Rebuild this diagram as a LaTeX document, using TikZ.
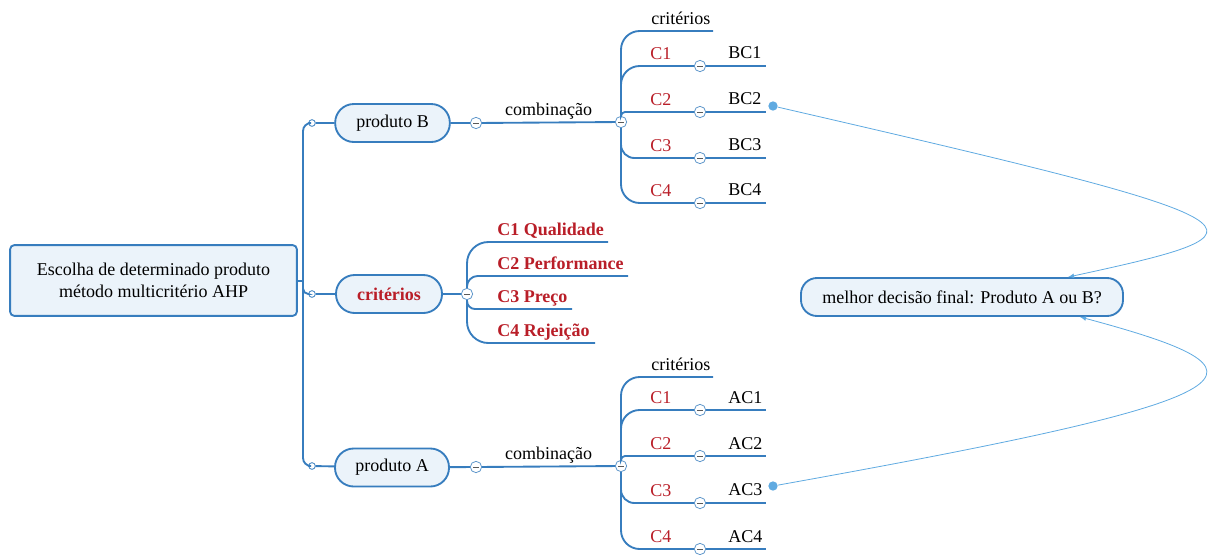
\documentclass[tikz,border=0pt]{standalone}
\usepackage{fontspec}
\setmainfont{Liberation Serif}
\usetikzlibrary{arrows}

\definecolor{mmblue}{RGB}{55,125,190}
\definecolor{mmfill}{RGB}{235,243,250}
\definecolor{mmred}{RGB}{185,30,40}
\definecolor{mmlink}{RGB}{95,170,225}

\begin{document}
\begin{tikzpicture}[x=0.75pt, y=-0.75pt,
    every node/.style={font=\fontsize{13.5}{16.5}\selectfont},
    topic/.style={draw=mmblue, fill=mmfill, line width=1.4pt, rounded corners=3pt,
      minimum width=215pt, minimum height=53pt, align=center},
    sub/.style={draw=mmblue, fill=mmfill, line width=1.4pt, rounded corners=14pt,
      minimum height=28.5pt},
    knob/.style={circle, draw=mmblue, fill=white, line width=0.6pt, inner sep=0pt,
      minimum size=5pt},
    minus/.style={circle, draw=mmblue!80, fill=white, line width=0.6pt, inner sep=0pt,
      minimum size=8.5pt, path picture={\draw[gray!70!black, line width=0.6pt]
        ([xshift=2pt]path picture bounding box.west) --
        ([xshift=-2pt]path picture bounding box.east);}},
    branch/.style={draw=mmblue, line width=1.4pt},
    leaf/.style={inner sep=0pt, anchor=base west},
    crit/.style={leaf, text=mmred},
    boldcrit/.style={crit, font=\fontsize{13.5}{16.5}\selectfont\bfseries},
    tip/.style={circle, fill=mmlink, inner sep=0pt, minimum size=7pt},
    link/.style={draw=mmlink, line width=0.6pt, -latex}]
  \useasboundingbox (0,0) rectangle (1214,554);

  % main topics
  \node[topic] (root) at (153.5,280.5) {Escolha de determinado produto\\método multicritério AHP};
  \node[sub, minimum width=86pt] (prodB) at (392.5,123) {produto B};
  \node[sub, minimum width=79.5pt, text=mmred,
    font=\fontsize{13.5}{16.5}\selectfont\bfseries] (crit) at (389,294) {critérios};
  \node[sub, minimum width=85.5pt] (prodA) at (392,467.5) {produto A};
  \node[sub, minimum width=241.5pt, rounded corners=12pt] (dec) at (962,297)
    {melhor decisão final: Produto A ou B?};

  % trunk
  \coordinate (trunk) at (303,281);
  \node[knob] (oB) at (312,123) {};
  \node[knob] (oC) at (312,294) {};
  \node[knob] (oA) at (312,466) {};
  \draw[branch] (root) -- (trunk);
  \draw[branch, rounded corners=6pt] (trunk) |- (oB);
  \draw[branch, rounded corners=4pt] (trunk) |- (oC);
  \draw[branch, rounded corners=6pt] (trunk) |- (oA);
  \draw[branch] (oB) -- (prodB);
  \draw[branch] (oC) -- (crit);
  \draw[branch] (oA) -- (prodA);

  % produto B
  \node[minus] (mB) at (476,123) {};
  \node[minus] (jB) at (621,122) {};
  \draw[branch] (prodB) -- (mB);
  \draw[branch] (mB) -- node[above, inner sep=2pt]{combinação} (jB);
  \node[leaf] (kB) at (651,24) {critérios};
  \coordinate (kBe) at (713,31);
  \draw[branch, rounded corners=14pt] (jB) |- (kBe);
  \node[crit] (cB1) at (650,59) {C1};
  \node[crit] (cB2) at (650,105) {C2};
  \node[crit] (cB3) at (650,151) {C3};
  \node[crit] (cB4) at (650,196) {C4};
  \node[minus] (mB1) at (700,66) {};
  \node[minus] (mB2) at (700,112) {};
  \node[minus] (mB3) at (700,158) {};
  \node[minus] (mB4) at (700,203) {};
  \draw[branch, rounded corners=14pt] (jB) |- (mB1);
  \draw[branch, rounded corners=3pt] (jB) |- (mB2);
  \draw[branch, rounded corners=10pt] (jB) |- (mB3);
  \draw[branch, rounded corners=14pt] (jB) |- (mB4);
  \node[leaf] (bB1) at (728,58) {BC1};
  \node[leaf] (bB2) at (728,104) {BC2};
  \node[leaf] (bB3) at (728,150) {BC3};
  \node[leaf] (bB4) at (728,195) {BC4};
  \coordinate (eB1) at (766,66);
  \coordinate (eB2) at (766,112);
  \coordinate (eB3) at (766,158);
  \coordinate (eB4) at (766,203);
  \draw[branch] (mB1) -- (eB1);
  \draw[branch] (mB2) -- (eB2);
  \draw[branch] (mB3) -- (eB3);
  \draw[branch] (mB4) -- (eB4);

  % criterios
  \node[minus] (mC) at (467,294) {};
  \draw[branch] (crit) -- (mC);
  \node[boldcrit] (q1) at (497,235) {C1 Qualidade};
  \node[boldcrit] (q2) at (497,269) {C2 Performance};
  \node[boldcrit] (q3) at (497,302) {C3 Preço};
  \node[boldcrit] (q4) at (497,336) {C4 Rejeição};
  \coordinate (eQ1) at (608,242);
  \coordinate (eQ2) at (628,276);
  \coordinate (eQ3) at (572,309);
  \coordinate (eQ4) at (595,343);
  \draw[branch, rounded corners=16pt] (mC) |- (eQ1);
  \draw[branch, rounded corners=8pt] (mC) |- (eQ2);
  \draw[branch, rounded corners=6pt] (mC) |- (eQ3);
  \draw[branch, rounded corners=16pt] (mC) |- (eQ4);

  % produto A
  \node[minus] (mA) at (476,467) {};
  \node[minus] (jA) at (621,466) {};
  \draw[branch] (prodA) -- (mA);
  \draw[branch] (mA) -- node[above, inner sep=2pt]{combinação} (jA);
  \node[leaf] (kA) at (651,370) {critérios};
  \coordinate (kAe) at (713,377);
  \draw[branch, rounded corners=14pt] (jA) |- (kAe);
  \node[crit] (cA1) at (650,403) {C1};
  \node[crit] (cA2) at (650,449) {C2};
  \node[crit] (cA3) at (650,496) {C3};
  \node[crit] (cA4) at (650,542) {C4};
  \node[minus] (mA1) at (700,410) {};
  \node[minus] (mA2) at (700,456) {};
  \node[minus] (mA3) at (700,503) {};
  \node[minus] (mA4) at (700,549) {};
  \draw[branch, rounded corners=14pt] (jA) |- (mA1);
  \draw[branch, rounded corners=3pt] (jA) |- (mA2);
  \draw[branch, rounded corners=10pt] (jA) |- (mA3);
  \draw[branch, rounded corners=14pt] (jA) |- (mA4);
  \node[leaf] (aA1) at (728,403) {AC1};
  \node[leaf] (aA2) at (728,449) {AC2};
  \node[leaf] (aA3) at (728,495) {AC3};
  \node[leaf] (aA4) at (728,542) {AC4};
  \coordinate (eA1) at (766,410);
  \coordinate (eA2) at (766,456);
  \coordinate (eA3) at (766,503);
  \coordinate (eA4) at (766,549);
  \draw[branch] (mA1) -- (eA1);
  \draw[branch] (mA2) -- (eA2);
  \draw[branch] (mA3) -- (eA3);
  \draw[branch] (mA4) -- (eA4);

  % links to the decision
  \node[tip] (tB) at (773,106) {};
  \node[tip] (tA) at (773,486) {};
  \draw[link] (tB) .. controls (1285,224) and (1285,230) .. ([xshift=79.5pt]dec.north);
  \draw[link] (tA) .. controls (1275,396) and (1285,372) .. ([xshift=88.5pt]dec.south);
\end{tikzpicture}
\end{document}
